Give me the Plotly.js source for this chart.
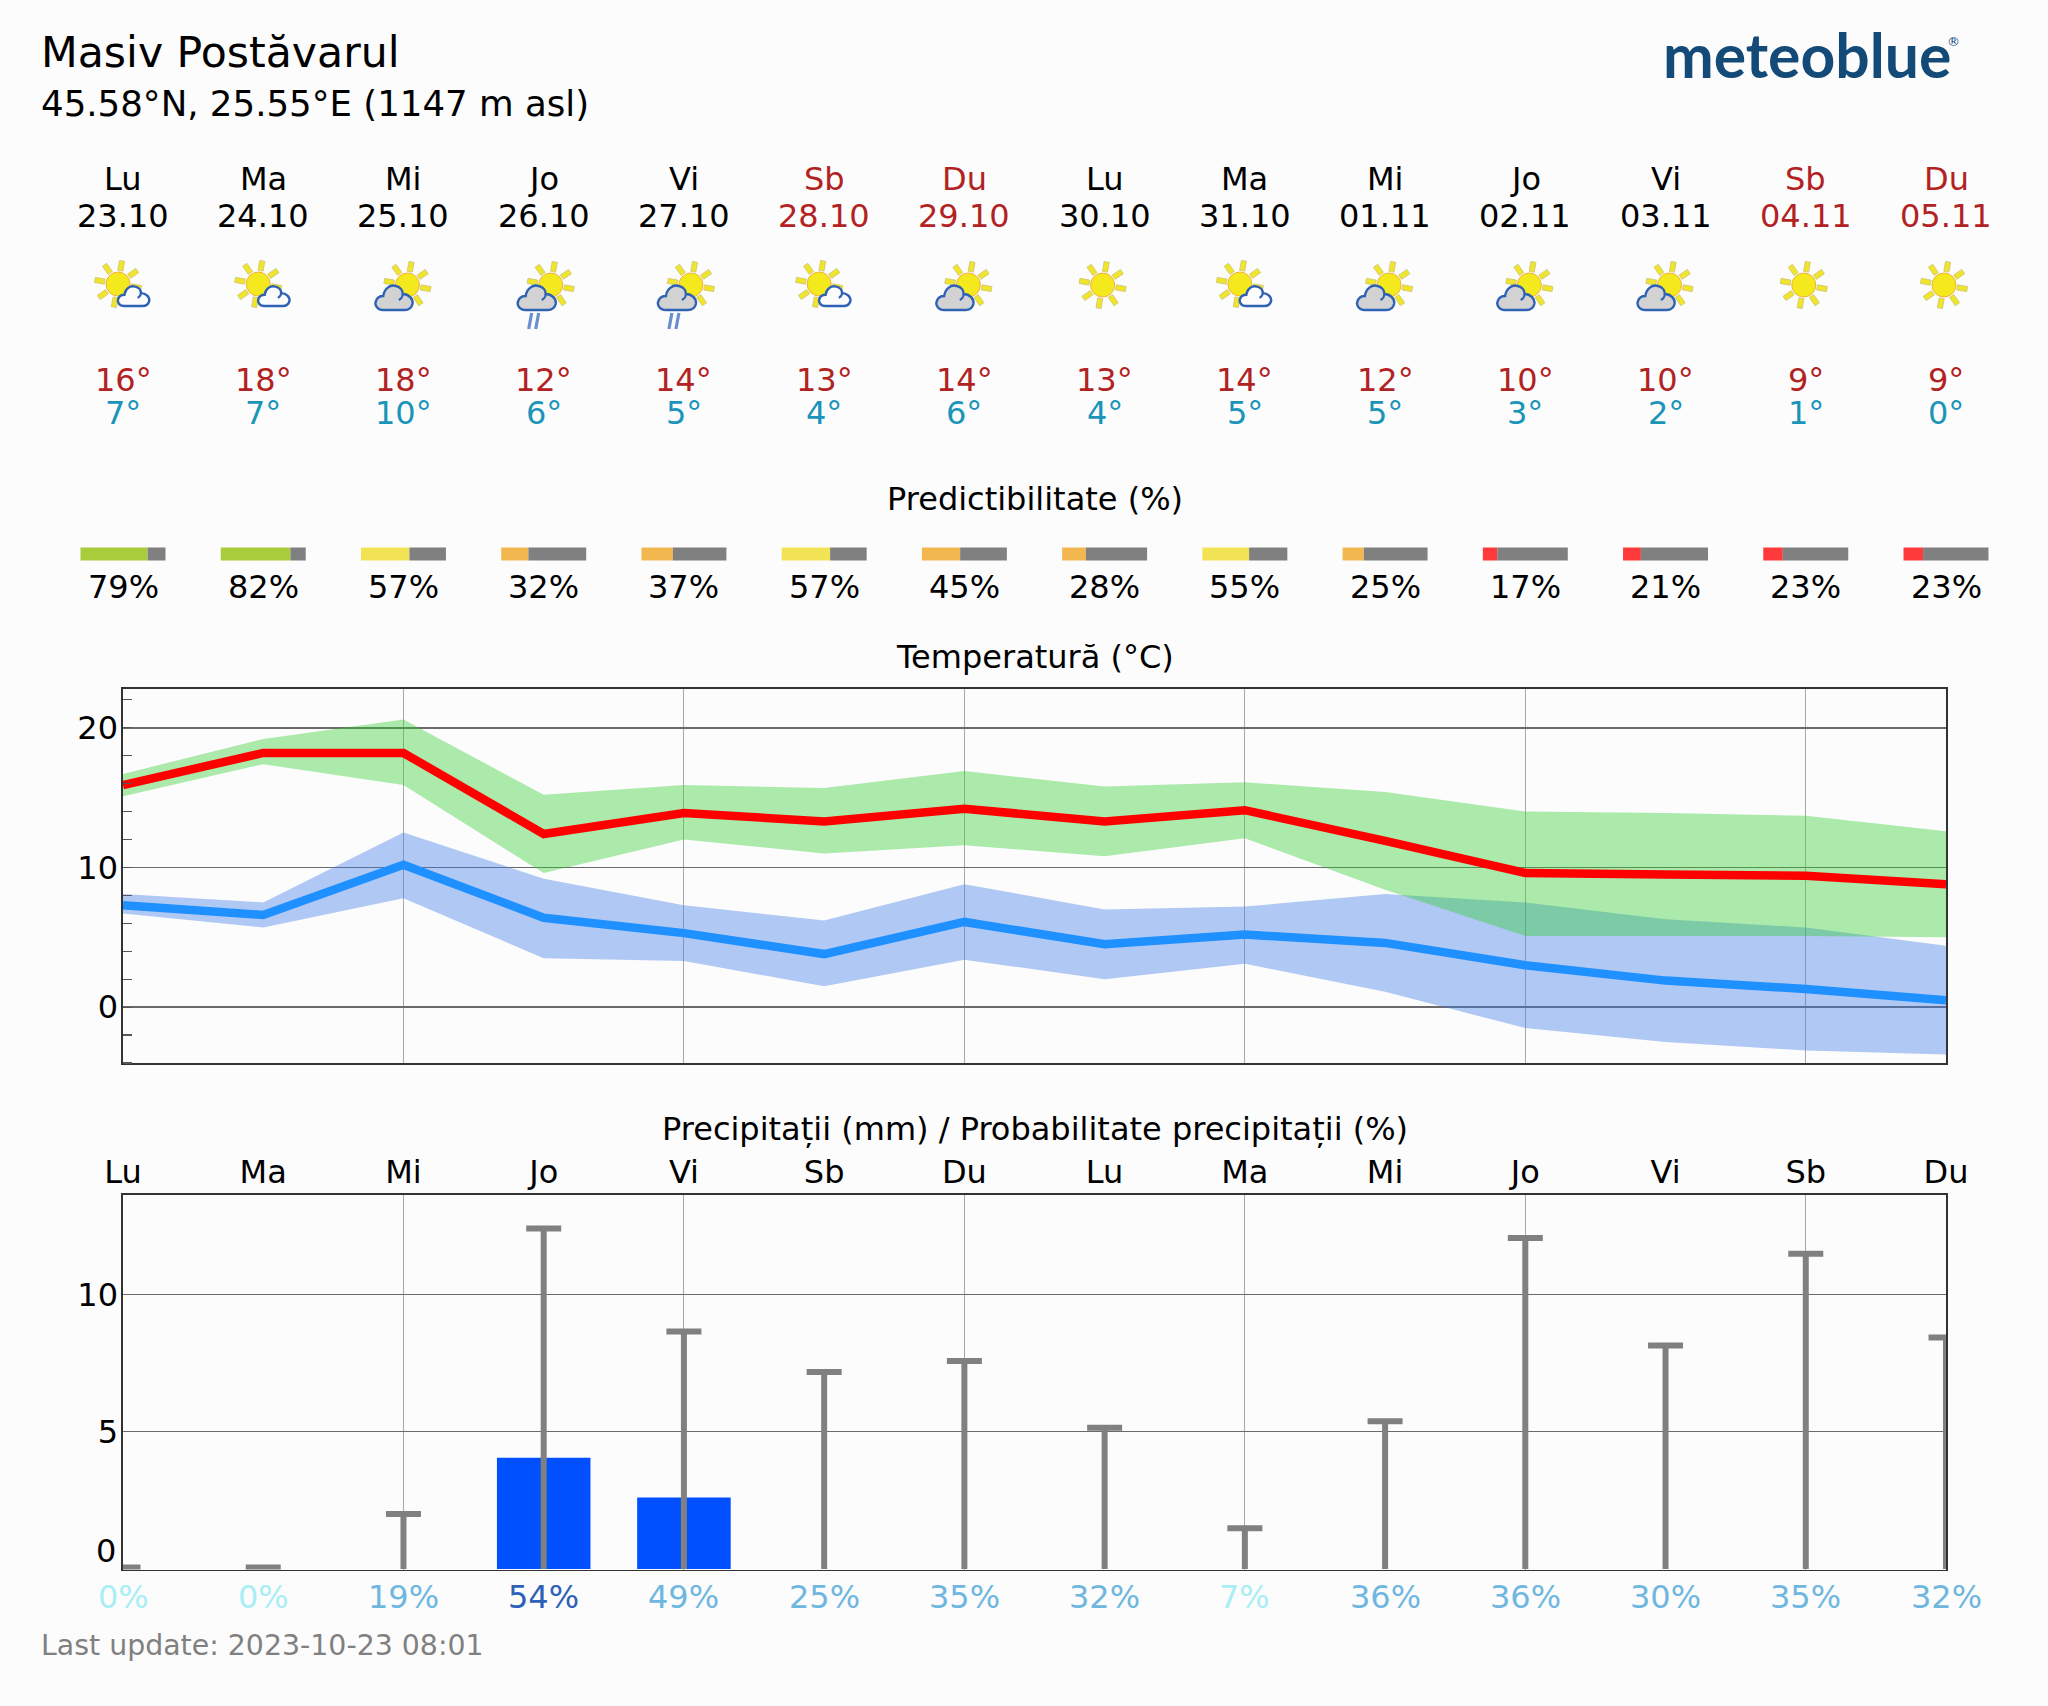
<!DOCTYPE html>
<html><head><meta charset="utf-8">
<script src="https://cdn.plot.ly/plotly-3.0.1.min.js"></script>
<style>html,body{margin:0;padding:0;background:#fcfcfc}#c{width:2048px;height:1706px}</style>
</head><body><div id="c"></div>
<script>
const dayNames=['Lu','Ma','Mi','Jo','Vi','Sb','Du','Lu','Ma','Mi','Jo','Vi','Sb','Du'];
const dates=['23.10','24.10','25.10','26.10','27.10','28.10','29.10','30.10','31.10','01.11','02.11','03.11','04.11','05.11'];
const icons=['few','few','cloud','rain','rain','few','cloud','sun','few','cloud','cloud','cloud','sun','sun'];
const hiLabels=[16,18,18,12,14,13,14,13,14,12,10,10,9,9];
const loLabels=[7,7,10,6,5,4,6,4,5,5,3,2,1,0];
const predict=[79,82,57,32,37,57,45,28,55,25,17,21,23,23];
const tMax=[15.9,18.2,18.2,12.4,13.9,13.3,14.2,13.3,14.1,11.9,9.6,9.5,9.4,8.8];
const tMaxHi=[16.7,19.2,20.6,15.2,15.9,15.7,16.9,15.8,16.1,15.4,14.0,13.9,13.7,12.6];
const tMaxLo=[15.1,17.4,15.9,9.6,12.0,11.0,11.6,10.8,12.1,8.4,5.1,5.1,5.1,5.0];
const tMin=[7.3,6.6,10.2,6.4,5.3,3.8,6.1,4.5,5.2,4.6,3.0,1.9,1.3,0.5];
const tMinHi=[8.1,7.5,12.5,9.2,7.3,6.2,8.8,7.0,7.2,8.1,7.5,6.3,5.7,4.4];
const tMinLo=[6.7,5.7,7.8,3.5,3.3,1.5,3.4,2.0,3.1,1.1,-1.5,-2.5,-3.1,-3.4];
const precip=[0,0,0,4.05,2.6,0,0,0,0,0,0,0,0,0];
const precipMax=[0.05,0.05,2.0,12.4,8.65,7.17,7.57,5.14,1.48,5.38,12.05,8.14,11.48,8.43];
const precipProb=[0,0,19,54,49,25,35,32,7,36,36,30,35,32];

const W=2048,H=1706,FONT='DejaVu Sans',FS=32;
const days=dayNames.map((_,i)=>i);
const X0=123,X1=1946,DX=(X1-X0)/13;
const yp=p=>1-p/H;
const RED='#b22222',LOW='#1a94b8';
const predColor=p=>p>=70?'#a8cc3c':p>=50?'#f2e355':p>=25?'#f2b84f':'#ff3a3a';
const probColor=p=>p<10?'#aaeef5':p<50?'#6fb7e0':'#2f60b8';
const wk=i=>i===5||i===6||i===12||i===13;

const ann=[];
function T(text,x,xref,y,size,color,anchor){ann.push({text:String(text),x,xref,y:yp(y),yref:'paper',showarrow:false,
  xanchor:anchor||'center',yanchor:'middle',borderpad:0,font:{family:FONT,size,color:color||'#000'}});}
T('Masiv Postăvarul',40/W,'paper',52,42.6,'#000','left');
T('45.58°N, 25.55°E (1147 m asl)',40/W,'paper',104,35.6,'#000','left');
ann.push({text:'<b>meteoblue</b>',x:1952/W,xref:'paper',y:yp(54),yref:'paper',xanchor:'right',yanchor:'middle',showarrow:false,borderpad:0,font:{family:'Lato',size:60.6,color:'#144a78'}});
ann.push({text:'®',x:1953/W,xref:'paper',y:yp(41),yref:'paper',xanchor:'center',yanchor:'middle',showarrow:false,borderpad:0,font:{family:FONT,size:13,color:'#144a78'}});
days.forEach(i=>{
  const c=wk(i)?RED:'#000';
  T(dayNames[i],i,'x3',179,FS,c);
  T(dates[i],i,'x3',215.5,FS,c);
  T(hiLabels[i]+'°',i,'x3',380,FS,RED);
  T(loLabels[i]+'°',i,'x3',413,FS,LOW);
  T(predict[i]+'%',i,'x3',587,FS,'#000');
  T(precipProb[i]+'%',i,'x3',1597,FS,probColor(precipProb[i]));
});
T('Predictibilitate (%)',6.5,'x3',499,FS);
T('Temperatură (°C)',6.5,'x3',657,FS);
T('Precipitații (mm) / Probabilitate precipitații (%)',6.5,'x3',1128.5,FS);
T('Last update: 2023-10-23 08:01',40/W,'paper',1645,28.4,'#808080','left');
T('0',117/W,'paper',1551,FS,'#000','right');

// weather icons
function sun(cx,cy){let s='';for(let k=0;k<8;k++){const a=10+45*k;
  s+=`<rect x="${cx-2.6}" y="${cy-23.5}" width="5.2" height="10" fill="#f0e52a" stroke="#c9c27a" stroke-width=".7" transform="rotate(${a} ${cx} ${cy})"/>`;}
  return s+`<circle cx="${cx}" cy="${cy}" r="12" fill="#f4e91c" stroke="#f2a93a" stroke-width=".9"/>`;}
function cloud(x,y,w,h,fill){const sx=w/40,sy=h/26,sw=2.4/Math.min(sx,sy);
  return `<g transform="translate(${x} ${y}) scale(${sx} ${sy})"><path d="M9 26C2 26 0 20 1.5 17C3 13 7 12 9 12C10 5 16 0 22 2C27 3 29 7 29 10C35 10 40 15 39 20C38 24 35 26 31 26Z" fill="${fill}" stroke="#2f62b5" stroke-width="${sw}"/><path d="M29 10C29 13 27 15 25 16" fill="none" stroke="#2f62b5" stroke-width="${sw*.85}"/></g>`;}
function iconSvg(t){let b='';
  if(t==='sun')b=sun(48,50);
  if(t==='few')b=sun(45,49)+cloud(44,50,33,21,'#fcfcfc');
  if(t==='cloud')b=sun(54,50)+cloud(21,49,39,26,'#d2d2d2');
  if(t==='rain')b=sun(57,50)+cloud(23,49,40,26,'#d2d2d2')+'<path d="M38 78L35 94M45 78L42 94" stroke="#6a8fd0" stroke-width="3.2" fill="none"/>';
  return 'data:image/svg+xml;utf8,'+encodeURIComponent(`<svg xmlns="http://www.w3.org/2000/svg" width="100" height="100" viewBox="0 0 100 100">${b}</svg>`);}
const images=days.map(i=>({source:iconSvg(icons[i]),xref:'x3',yref:'paper',x:i,y:yp(285),sizex:100/DX,sizey:100/H,xanchor:'center',yanchor:'middle',sizing:'stretch',layer:'above'}));

const line=(y,c)=>({x:days,y,xaxis:'x',yaxis:'y',mode:'lines',line:{color:c,width:8.5,simplify:false},hoverinfo:'skip'});
const band=(y,fill,c)=>({x:days,y,xaxis:'x',yaxis:'y',mode:'lines',line:{width:0},fill,fillcolor:c,hoverinfo:'skip'});
const BLUE='rgba(62,122,232,0.4)',GREEN='rgba(50,208,50,0.4)';
const barHalf=0.303;
const GREY='#808080';
const traces=[
 band(tMinLo,'none',BLUE),band(tMinHi,'tonexty',BLUE),
 band(tMaxLo,'none',GREEN),band(tMaxHi,'tonexty',GREEN),
 line(tMax,'#ff0000'),line(tMin,'#1e90ff'),
 {type:'bar',x:days,y:precip,xaxis:'x2',yaxis:'y2',width:0.667,marker:{color:'#0050ff',line:{width:0}},hoverinfo:'skip'},
 {type:'scatter',mode:'markers',x:days,y:days.map(()=>0),xaxis:'x2',yaxis:'y2',marker:{size:1,opacity:0},hoverinfo:'skip',
  error_y:{type:'data',symmetric:false,array:precipMax,arrayminus:days.map(()=>0),color:GREY,thickness:6,width:0}},
 {type:'scatter',mode:'markers',x:days,y:precipMax,xaxis:'x2',yaxis:'y2',hoverinfo:'skip',
  marker:{symbol:'line-ew',size:25,color:GREY,line:{color:GREY,width:6}}},
 {type:'scatter',mode:'markers',x:days,y:days.map(()=>null),xaxis:'x4',yaxis:'y2',hoverinfo:'skip'},
 {type:'bar',orientation:'h',y:days.map(()=>554),base:days.map(i=>i-barHalf),x:predict.map(p=>2*barHalf*p/100),width:13,xaxis:'x3',yaxis:'y3',marker:{color:predict.map(predColor),line:{width:0}},hoverinfo:'skip'},
 {type:'bar',orientation:'h',y:days.map(()=>554),base:days.map(i=>i-barHalf+2*barHalf*predict[i]/100),x:predict.map(p=>2*barHalf*(100-p)/100),width:13,xaxis:'x3',yaxis:'y3',marker:{color:GREY,line:{width:0}},hoverinfo:'skip'}
];
const evens=[2,4,6,8,10,12];
const FRAME={showline:true,mirror:true,linecolor:'#333',linewidth:1.6,zeroline:false};
const XG={...FRAME,range:[0,13],domain:[X0/W,X1/W],tickmode:'array',tickvals:evens,ticks:'',showticklabels:false,showgrid:true,gridcolor:'#a8a8a8',gridwidth:1};
const layout={
 width:W,height:H,margin:{l:0,r:0,t:0,b:0,pad:0},paper_bgcolor:'#fcfcfc',plot_bgcolor:'rgba(0,0,0,0)',
 showlegend:false,barmode:'overlay',font:{family:FONT,size:FS,color:'#000'},
 xaxis:{...XG,anchor:'y'},
 yaxis:{...FRAME,anchor:'x',domain:[yp(1063),yp(689)],range:[-4.0,22.78],tickmode:'array',tickvals:[0,10,20],ticks:'',ticklabelstandoff:-3,
  showgrid:true,gridcolor:'#6a6a6a',gridwidth:1.5,tickfont:{size:FS},
  minor:{dtick:2,tick0:0,ticks:'inside',ticklen:9,tickcolor:'#555',tickwidth:1.2,showgrid:false}},
 xaxis2:{...XG,anchor:'y2'},
 yaxis2:{...FRAME,anchor:'x2',domain:[yp(1569.5),yp(1195)],range:[-0.02,13.62],tickmode:'array',tickvals:[5,10],ticks:'',ticklabelstandoff:-3,
  showgrid:true,gridcolor:'#6a6a6a',gridwidth:1.5,tickfont:{size:FS}},
 xaxis3:{range:[-X0/DX,(W-X0)/DX],domain:[0,1],anchor:'y3',visible:false,fixedrange:true},
 yaxis3:{range:[H,0],domain:[0,1],anchor:'x3',visible:false,fixedrange:true},
 xaxis4:{range:[0,13],domain:[X0/W,X1/W],overlaying:'x2',anchor:'y2',side:'top',tickmode:'array',tickvals:days,ticktext:dayNames,ticks:'',showgrid:false,zeroline:false,showline:false,tickfont:{size:FS},ticklabelstandoff:5},
 annotations:ann,images
};
Plotly.newPlot('c',traces,layout,{staticPlot:true,displayModeBar:false});
</script></body></html>
